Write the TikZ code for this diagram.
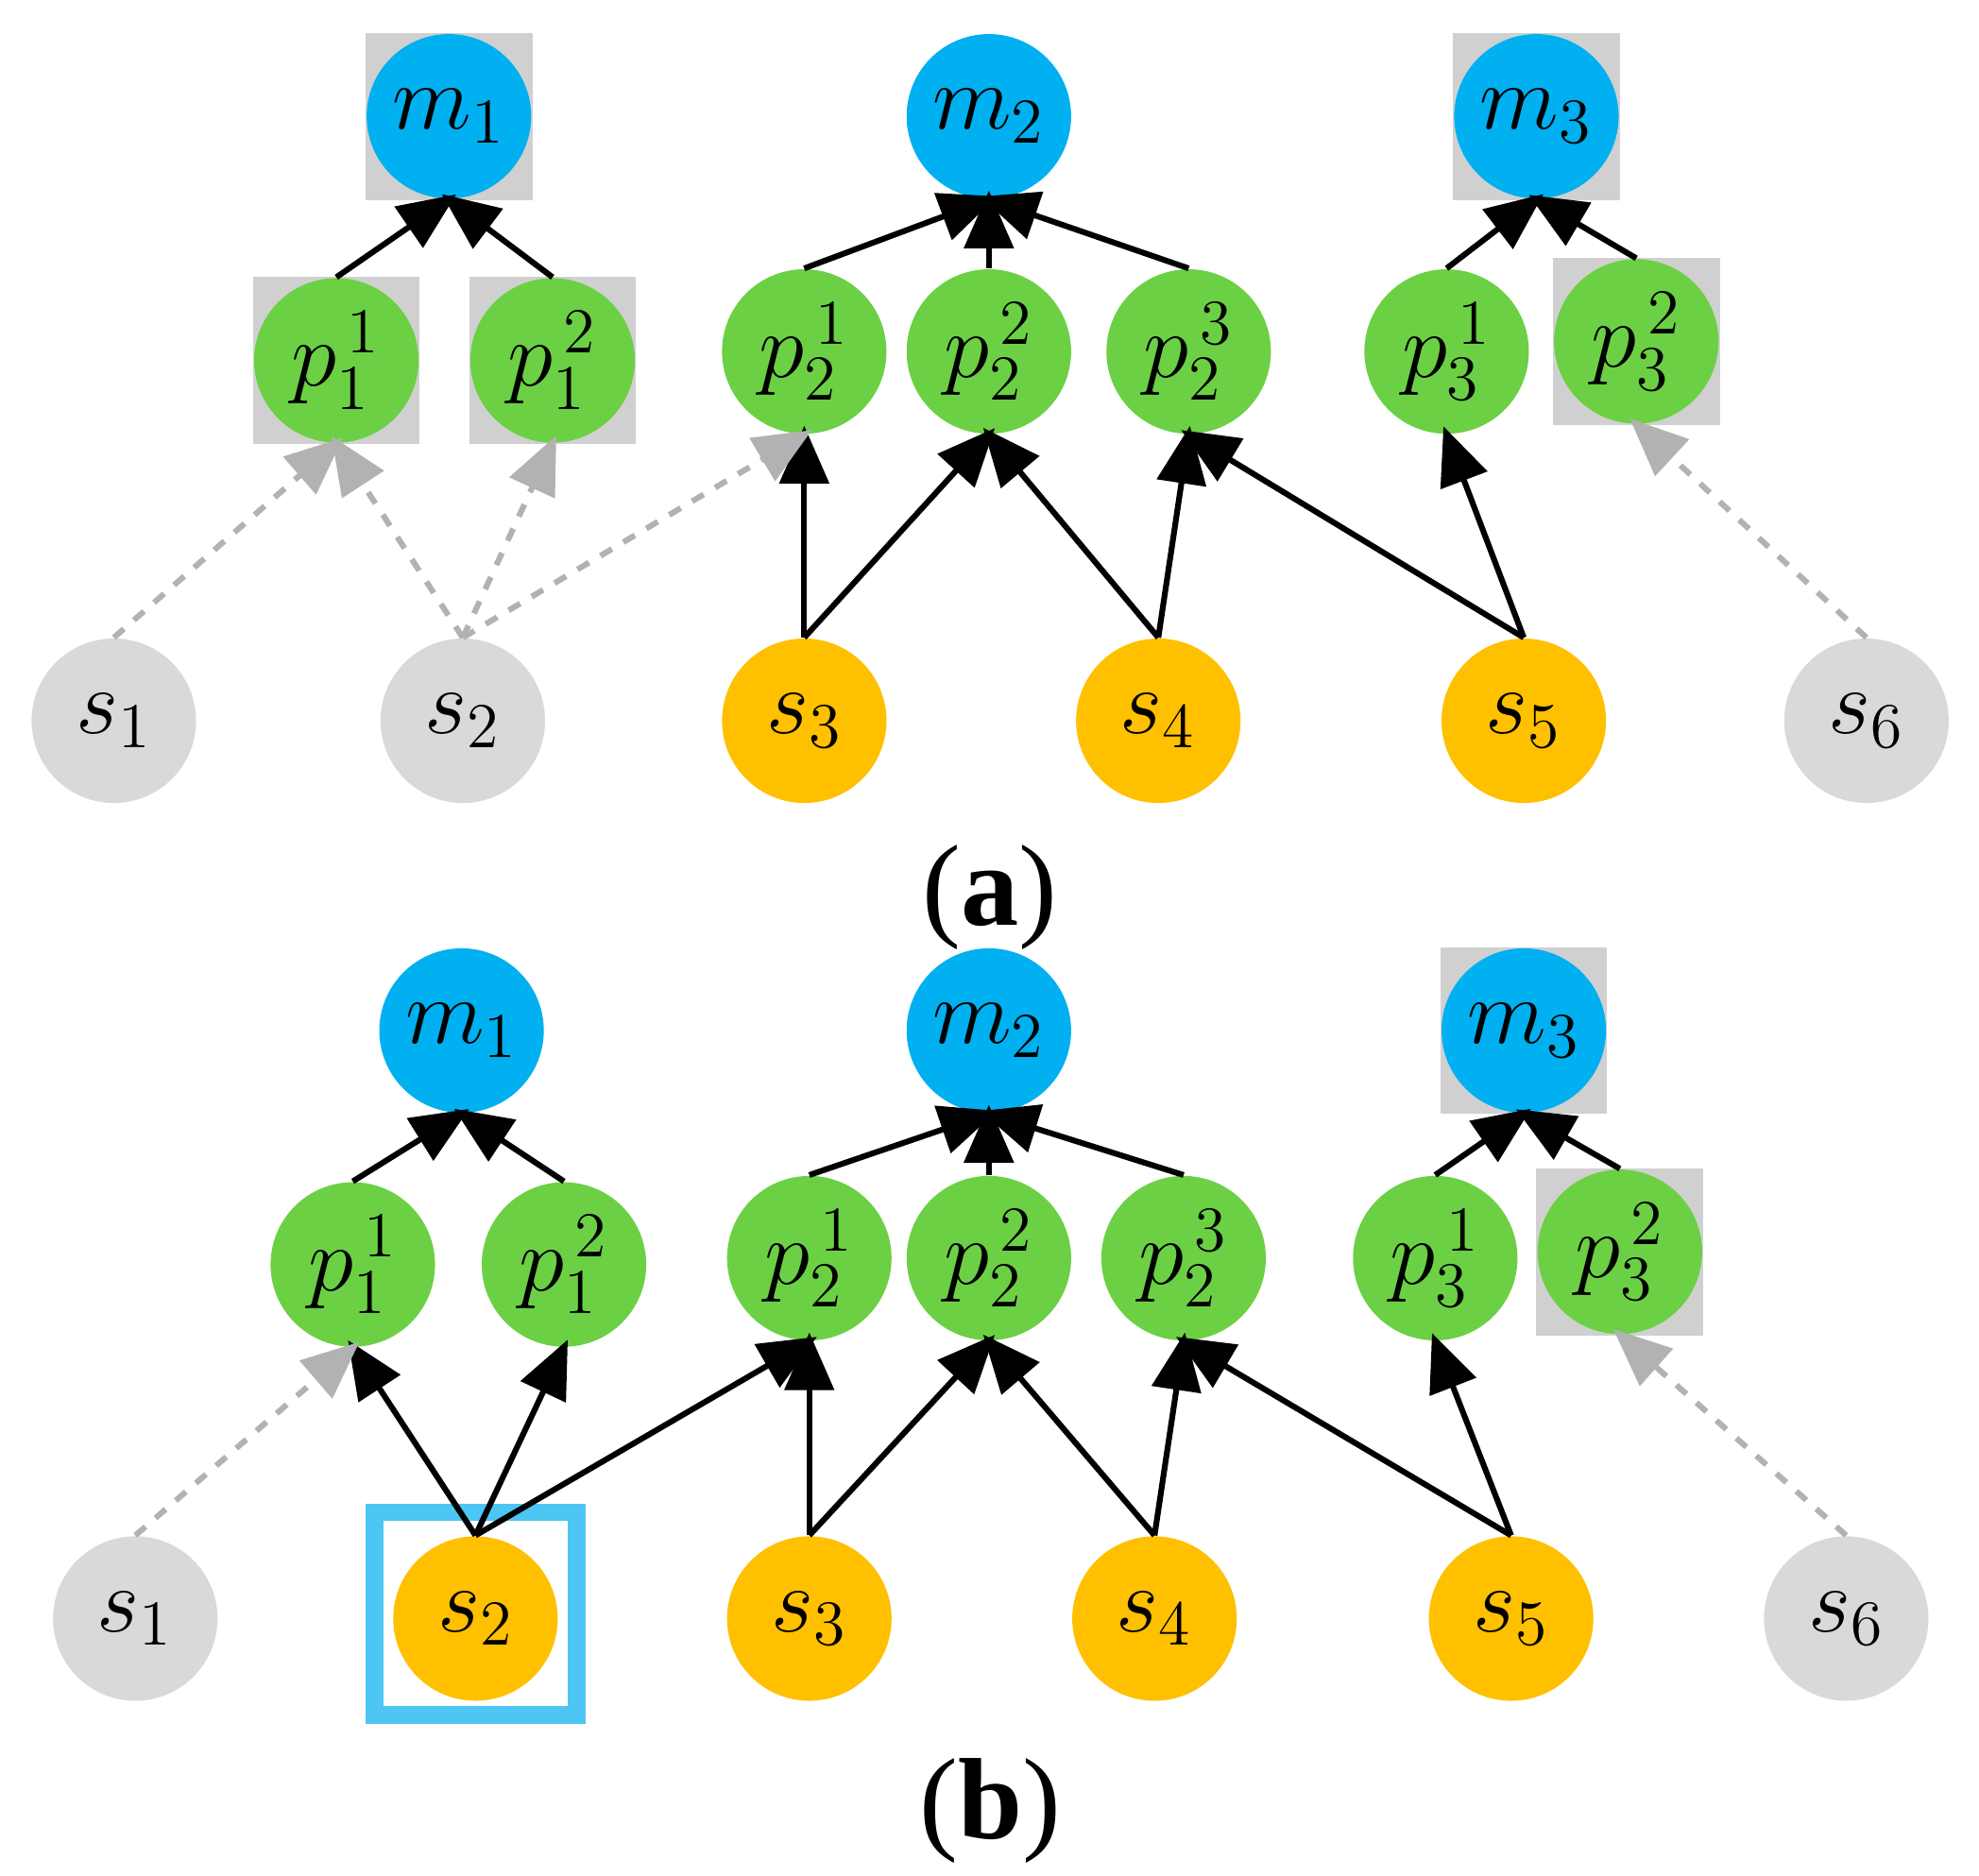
\documentclass[tikz,border=0pt]{standalone}
\usepackage{fontspec}
\setmainfont{Liberation Serif}
\usetikzlibrary{arrows.meta}
\definecolor{cm}{RGB}{0,176,240}
\definecolor{cp}{RGB}{108,208,69}
\definecolor{cs}{RGB}{255,192,0}
\definecolor{cg}{RGB}{217,217,217}
\definecolor{csq}{RGB}{208,208,208}
\begin{document}
\begin{tikzpicture}[x=0.01cm,y=-0.01cm,
 nd/.style={circle,minimum size=1.3cm,inner sep=0pt,font=\fontsize{22}{24}\selectfont\bfseries\itshape},
 M/.style={nd,fill=cm}, P/.style={nd,fill=cp}, S/.style={nd,fill=cs}, G/.style={nd,fill=cg},
 sq/.style={fill=csq,minimum size=1.32cm,inner sep=0pt},
 ed/.style={-{Triangle[length=13pt,width=11pt]},line width=1.3pt,shorten >=-2pt},
 da/.style={-{Triangle[length=13pt,width=11pt]},gray!60,dashed,line width=1.3pt,shorten >=-2pt},
 captxt/.style={font=\fontsize{26}{28}\selectfont}]
\useasboundingbox (0,0) rectangle (1565,1483);
% ---------- (a)
\node[sq] at (355,92) {}; \node[sq] at (1215,92) {};
\node[sq] at (266,285) {}; \node[sq] at (437,285) {}; \node[sq] at (1294,270) {};
\node[M] (am1) at (355,92) {$m_1$};
\node[M] (am2) at (782,92) {$m_2$};
\node[M] (am3) at (1215,92) {$m_3$};
\node[P] (ap11) at (266,285) {$p_1^{\,1}$};
\node[P] (ap12) at (437,285) {$p_1^{\,2}$};
\node[P] (ap21) at (636,278) {$p_2^{\,1}$};
\node[P] (ap22) at (782,278) {$p_2^{\,2}$};
\node[P] (ap23) at (940,278) {$p_2^{\,3}$};
\node[P] (ap31) at (1144,278) {$p_3^{\,1}$};
\node[P] (ap32) at (1294,270) {$p_3^{\,2}$};
\node[G] (as1) at (90,570) {$s_1$};
\node[G] (as2) at (366,570) {$s_2$};
\node[S] (as3) at (636,570) {$s_3$};
\node[S] (as4) at (916,570) {$s_4$};
\node[S] (as5) at (1205,570) {$s_5$};
\node[G] (as6) at (1476,570) {$s_6$};
\foreach \a/\b in {ap11/am1,ap12/am1,ap21/am2,ap22/am2,ap23/am2,ap31/am3,ap32/am3,
  as3/ap21,as3/ap22,as4/ap22,as4/ap23,as5/ap23,as5/ap31}
  \draw[ed] (\a.north) -- (\b.south);
\foreach \a/\b in {as1/ap11,as2/ap11,as2/ap12,as2/ap21,as6/ap32}
  \draw[da] (\a.north) -- (\b.south);
\node[captxt] (la) at (783,710) {(\textbf{a})};
% ---------- (b)
\node[sq] at (1205,815) {}; \node[sq] at (1281,990) {};
\node[M] (bm1) at (365,815) {$m_1$};
\node[M] (bm2) at (782,815) {$m_2$};
\node[M] (bm3) at (1205,815) {$m_3$};
\node[P] (bp11) at (279,1000) {$p_1^{\,1}$};
\node[P] (bp12) at (446,1000) {$p_1^{\,2}$};
\node[P] (bp21) at (640,995) {$p_2^{\,1}$};
\node[P] (bp22) at (782,995) {$p_2^{\,2}$};
\node[P] (bp23) at (936,995) {$p_2^{\,3}$};
\node[P] (bp31) at (1135,995) {$p_3^{\,1}$};
\node[P] (bp32) at (1281,990) {$p_3^{\,2}$};
\node[draw=cyan!70!white,line width=4pt,minimum size=1.6cm] (box) at (376,1276) {};
\node[G] (bs1) at (107,1280) {$s_1$};
\node[S] (bs2) at (376,1280) {$s_2$};
\node[S] (bs3) at (640,1280) {$s_3$};
\node[S] (bs4) at (913,1280) {$s_4$};
\node[S] (bs5) at (1195,1280) {$s_5$};
\node[G] (bs6) at (1460,1280) {$s_6$};
\foreach \a/\b in {bp11/bm1,bp12/bm1,bp21/bm2,bp22/bm2,bp23/bm2,bp31/bm3,bp32/bm3,
  bs2/bp11,bs2/bp12,bs2/bp21,bs3/bp21,bs3/bp22,bs4/bp22,bs4/bp23,bs5/bp23,bs5/bp31}
  \draw[ed] (\a.north) -- (\b.south);
\foreach \a/\b in {bs1/bp11,bs6/bp32}
  \draw[da] (\a.north) -- (\b.south);
\node[captxt] (lb) at (783,1432) {(\textbf{b})};
\end{tikzpicture}
\end{document}
